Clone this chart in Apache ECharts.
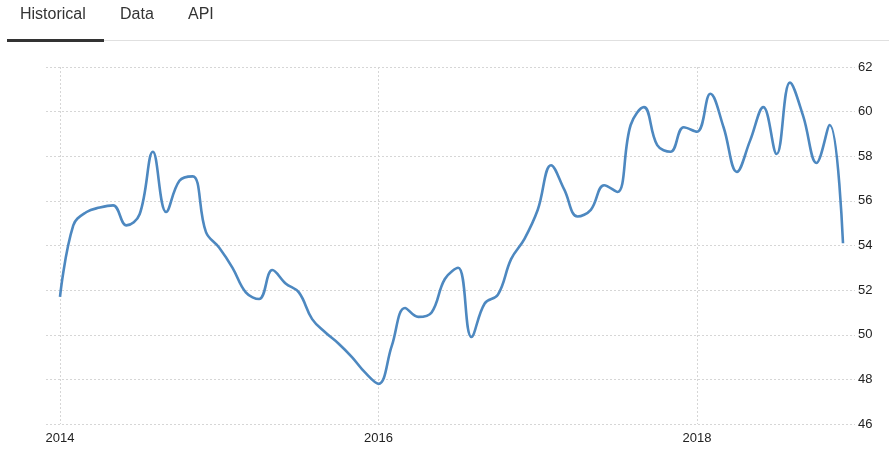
<!DOCTYPE html>
<html>
<head>
<meta charset="utf-8">
<script src="https://cdn.jsdelivr.net/npm/echarts@6/dist/echarts.min.js"></script>
<style>
html,body{margin:0;padding:0;background:#fff;}
#chart{width:889px;height:456px;}
</style>
</head>
<body>
<div id="chart"></div>
<script>
// Monthly values, Jan 2014 .. Dec 2018
var startYear = 2014;
var values2014 = [51.7, 54.9, 55.5, 55.7, 55.8, 54.9, 55.4, 58.2, 55.5, 56.9, 57.1, 54.6];
var values2015 = [53.9, 53.0, 51.9, 51.6, 52.9, 52.3, 51.9, 50.7, 50.1, 49.6, 49.0, 48.3];
var values2016 = [47.8, 49.5, 51.2, 50.8, 51.0, 52.5, 53.0, 49.9, 51.4, 51.8, 53.4, 54.3];
var values2017 = [55.6, 57.6, 56.5, 55.3, 55.6, 56.7, 56.4, 59.4, 60.2, 58.5, 58.2, 59.3];
var values2018 = [59.1, 60.8, 59.3, 57.3, 58.7, 60.2, 58.1, 61.3, 59.8, 57.7, 59.4, 54.1];
var yTicks = [46, 48, 50, 52, 54, 56, 58, 60, 62];
var tabs = ['Historical', 'Data', 'API'];

var allValues = [].concat(values2014, values2015, values2016, values2017, values2018);
var seriesData = allValues.map(function (v, i) { return [i, v]; });

var chart = echarts.init(document.getElementById('chart'), null, {renderer: 'canvas'});
var gridStyle = {type: [2, 2], color: '#d6d6d6', width: 1};
var labelFont = {color: '#222', fontSize: 13, fontFamily: 'Liberation Sans, Arial, sans-serif'};
var tabFont = 'Liberation Sans, Arial, sans-serif';

chart.setOption({
  animation: false,
  backgroundColor: '#fff',
  graphic: [
    {type: 'text', left: 20, top: 7, style: {text: tabs[0], fontSize: 16, fill: '#333', fontFamily: tabFont}},
    {type: 'text', left: 120, top: 7, style: {text: tabs[1], fontSize: 16, fill: '#333', fontFamily: tabFont}},
    {type: 'text', left: 188, top: 7, style: {text: tabs[2], fontSize: 16, fill: '#333', fontFamily: tabFont}},
    {type: 'rect', shape: {x: 104, y: 40, width: 785, height: 1}, style: {fill: '#e0e0e0'}},
    {type: 'rect', shape: {x: 7, y: 39, width: 97, height: 3}, style: {fill: '#333'}}
  ],
  grid: [
    {left: 60, right: 46, top: 67, bottom: 32},
    {left: 46, right: 34, top: 67, bottom: 32}
  ],
  xAxis: [
    {
      type: 'value', gridIndex: 0, min: 0, max: allValues.length - 1, interval: 24,
      axisLine: {show: false}, axisTick: {show: false},
      splitLine: {show: true, showMaxLine: false, lineStyle: gridStyle},
      axisLabel: Object.assign({
        margin: 8,
        showMaxLabel: false,
        formatter: function (v) { return v % 24 === 0 ? String(startYear + v / 12) : ''; }
      }, labelFont)
    },
    {type: 'value', gridIndex: 1, min: 0, max: 1, show: false}
  ],
  yAxis: [
    {type: 'value', gridIndex: 0, min: yTicks[0], max: yTicks[yTicks.length - 1], interval: 2, show: false},
    {
      type: 'value', gridIndex: 1, position: 'right',
      min: yTicks[0], max: yTicks[yTicks.length - 1], interval: 2,
      axisLine: {show: false}, axisTick: {show: false},
      splitLine: {show: true, lineStyle: gridStyle},
      axisLabel: Object.assign({margin: 3}, labelFont)
    }
  ],
  series: [{
    type: 'line', xAxisIndex: 0, yAxisIndex: 0,
    data: seriesData, smooth: 0.4, showSymbol: false,
    lineStyle: {color: '#4d88c0', width: 2.6},
    itemStyle: {color: '#4d88c0'}
  }]
});
</script>
</body>
</html>
